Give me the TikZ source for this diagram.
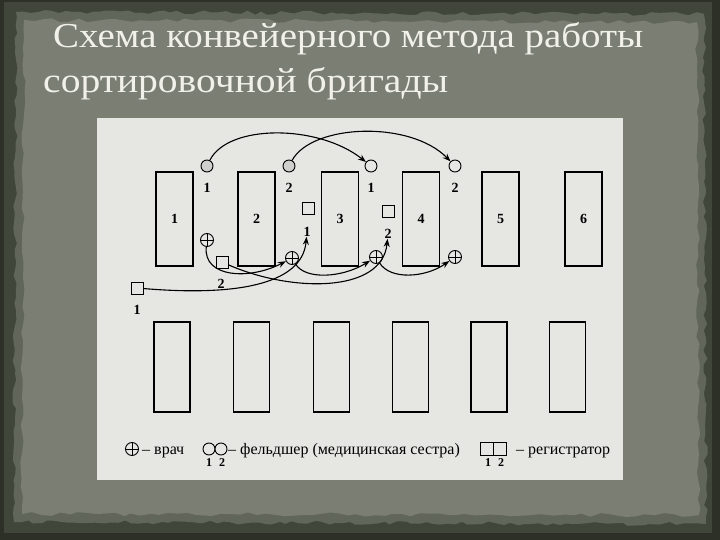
\documentclass[tikz,border=0pt]{standalone}
\usepackage{fontspec}
\setmainfont{Liberation Serif}
\usetikzlibrary{arrows.meta,decorations.pathmorphing}
\definecolor{framedark}{HTML}{41463A}
\definecolor{frameedge}{HTML}{2C3026}
\definecolor{panelc}{HTML}{7B7F73}
\definecolor{paneledge}{HTML}{61665A}
\definecolor{paper}{HTML}{E6E6E3}
\definecolor{titlec}{HTML}{F1F1EA}
\definecolor{nursefill}{HTML}{CFCFCC}
\begin{document}
\begin{tikzpicture}[x=1pt,y=-1pt,
  room/.style={draw, line width=1.3pt, minimum width=37pt, minimum height=94pt, inner sep=0pt},
  roomlow/.style={draw, line width=1.3pt, minimum width=36pt, minimum height=90pt, inner sep=0pt},
  nurse/.style={circle, draw, line width=0.9pt, minimum size=12pt, inner sep=0pt, fill=nursefill},
  nurseb/.style={circle, draw, line width=0.9pt, minimum size=12pt, inner sep=0pt, fill=paper},
  doc/.style={circle, draw, line width=0.9pt, minimum size=13pt, inner sep=0pt,
    path picture={\draw[line width=0.9pt] (path picture bounding box.north) -- (path picture bounding box.south)
      (path picture bounding box.west) -- (path picture bounding box.east);}},
  reg/.style={draw, line width=0.9pt, minimum size=12pt, inner sep=0pt, fill=paper},
  lbl/.style={font=\fontsize{14}{14}\selectfont\bfseries, inner sep=0pt},
  sublbl/.style={font=\fontsize{12}{12}\selectfont\bfseries, inner sep=0pt},
  legtxt/.style={font=\fontsize{16}{16}\selectfont, inner sep=0pt, anchor=base west},
  flow/.style={-{Stealth[length=8pt,width=6pt]}, line width=1.1pt},
  titletxt/.style={anchor=base west, inner sep=0pt, text=titlec, font=\fontsize{35}{35}\selectfont}]
\useasboundingbox (0,0) rectangle (720,540);
% slide background
\fill[frameedge] (0,0) rectangle (720,540);
\fill[framedark] (4,2) rectangle (712,533);
\pgfmathsetseed{7}
\fill[paneledge, decorate, decoration={random steps, segment length=7pt, amplitude=2pt}]
  (16,12) -- (704,14) -- (706,524) -- (14,522) -- cycle;
\fill[panelc, decorate, decoration={random steps, segment length=9pt, amplitude=2pt}]
  (24,20) -- (697,22) -- (699,515) -- (22,514) -- cycle;
% title
\node[titletxt] (t1) at (53,48) {\resizebox{590pt}{\height}{Схема конвейерного метода работы}};
\node[titletxt] (t2) at (43,93) {\resizebox{405pt}{\height}{сортировочной бригады}};
% paper
\fill[paper] (97,118) rectangle (623,480);
% top rooms
\foreach \x/\n in {174.5/1,256.5/2,340/3,421/4,500.5/5,583.5/6}
  \node[room] (top\n) at (\x,219) {\fontsize{14}{14}\selectfont\bfseries \n};
% bottom rooms
\foreach \x/\n in {172/1,251.5/2,331.5/3,410.5/4,489/5,567.5/6}
  \node[roomlow] (bot\n) at (\x,367) {};
% nurses
\node[nurse] (na) at (207,166) {};
\node[nurse] (nb) at (289,166) {};
\node[nurseb] (nc) at (371,166) {};
\node[nurseb] (nd) at (455,166) {};
\node[lbl] (lna) at (207,188) {1};
\node[lbl] (lnb) at (289,188) {2};
\node[lbl] (lnc) at (371,188) {1};
\node[lbl] (lnd) at (455,188) {2};
% doctors
\node[doc] (da) at (207,240) {};
\node[doc] (db) at (292,258) {};
\node[doc] (dc) at (376,257) {};
\node[doc] (dd) at (455,257) {};
% registrars
\node[reg] (ra) at (137,288) {};
\node[lbl] (lra) at (137,310) {1};
\node[reg] (rb) at (222,262) {};
\node[lbl] (lrb) at (221,284) {2};
\node[reg] (rc) at (308,208) {};
\node[lbl] (lrc) at (307,232) {1};
\node[reg] (rd) at (388,211) {};
\node[lbl] (lrd) at (388,234) {2};
% flows
\draw[flow] (na) .. controls (228,124) and (318,124) .. (nc);
\draw[flow] (nb) .. controls (312,124) and (410,120) .. (nd);
\draw[flow] (da) .. controls (203,278) and (250,280) .. (db);
\draw[flow] (rb) .. controls (290,292) and (382,294) .. (lrd);
\draw[flow] (ra) .. controls (232,296) and (302,286) .. (lrc);
\draw[flow] (db) .. controls (305,280) and (342,278) .. (dc);
\draw[flow] (dc) .. controls (390,280) and (425,278) .. (dd);
% legend
\node[doc] (ldoc) at (132,449) {};
\node[legtxt] (ltx1) at (142,454) {– врач};
\node[nurseb] (lc1) at (209,449) {};
\node[nurseb] (lc2) at (221,449) {};
\node[sublbl] (lc1n) at (209,463) {1};
\node[sublbl] (lc2n) at (222,463) {2};
\node[legtxt] (ltx2) at (228,454) {– фельдшер (медицинская сестра)};
\node[reg, minimum size=13pt] (ls1) at (487,449) {};
\node[reg, minimum size=13pt] (ls2) at (500,449) {};
\node[sublbl] (ls1n) at (488,463) {1};
\node[sublbl] (ls2n) at (501,463) {2};
\node[legtxt] (ltx3) at (516,454) {– регистратор};
\end{tikzpicture}
\end{document}
